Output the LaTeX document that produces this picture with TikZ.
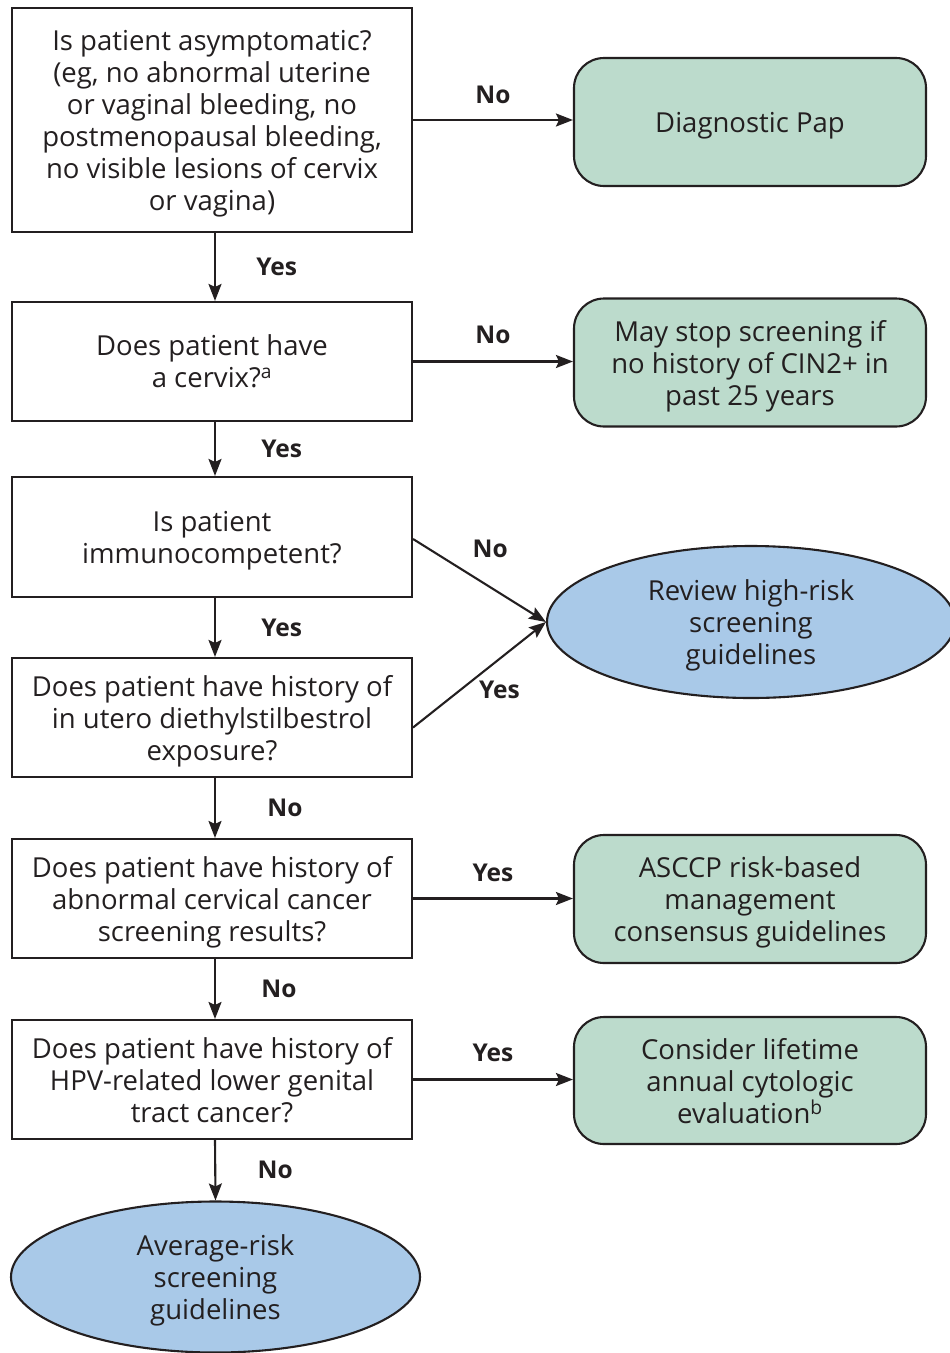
\documentclass[tikz,border=0pt]{standalone}
\usepackage{fontspec}
\setmainfont{Open Sans}
\usetikzlibrary{arrows.meta,shapes.geometric}
\definecolor{txt}{HTML}{231F20}
\definecolor{grn}{HTML}{BCDBCC}
\definecolor{blu}{HTML}{A9C9E8}
\begin{document}
\begin{tikzpicture}[x=1pt,y=-1pt,
  every node/.style={text=txt},
  qbox/.style={draw=txt,line width=2.1pt,minimum width=400pt,align=center,font=\fontsize{27.5}{32}\selectfont,inner sep=0pt,text depth=0pt},
  gbox/.style={draw=txt,line width=2.1pt,fill=grn,rounded corners=30pt,minimum width=352pt,minimum height=128pt,align=center,font=\fontsize{27.5}{32}\selectfont,inner sep=0pt,text depth=0pt},
  bell/.style={draw=txt,line width=2.1pt,fill=blu,ellipse,minimum width=408pt,minimum height=152pt,align=center,font=\fontsize{27.5}{32}\selectfont,inner sep=0pt,text depth=0pt},
  lbl/.style={font=\fontsize{24.5}{26}\bfseries\selectfont},
  arr/.style={draw=txt,line width=2.1pt,-{Stealth[length=17pt,width=13pt,inset=3pt]}}]
\useasboundingbox (0,0) rectangle (950,1353);
\node[qbox,minimum height=224pt] (q1) at (212,120) {Is patient asymptomatic?\\(eg, no abnormal uterine\\or vaginal bleeding, no\\postmenopausal bleeding,\\no visible lesions of cervix\\or vagina)};
\node[gbox] (diag) at (750,122) {Diagnostic Pap};
\node[qbox,minimum height=119pt] (q2) at (212,361.5) {Does patient have\\a cervix?\textsuperscript{a}};
\node[gbox] (stop) at (750,362.5) {May stop screening if\\no history of CIN2+ in\\past 25 years};
\node[qbox,minimum height=120pt] (q3) at (212,537) {Is patient\\immunocompetent?};
\node[bell] (rev) at (751,622) {Review high-risk\\screening\\guidelines};
\node[qbox,minimum height=119pt] (q4) at (212,717.5) {Does patient have history of\\in utero diethylstilbestrol\\exposure?};
\node[qbox,minimum height=119pt] (q5) at (212,898.5) {Does patient have history of\\abnormal cervical cancer\\screening results?};
\node[gbox] (asccp) at (750,899) {ASCCP risk-based\\management\\consensus guidelines};
\node[qbox,minimum height=119pt] (q6) at (212,1079.5) {Does patient have history of\\HPV-related lower genital\\tract cancer?};
\node[gbox,minimum height=127pt] (cons) at (750,1080.5) {Consider lifetime\\annual cytologic\\evaluation\textsuperscript{b}};
\node[bell,minimum width=409pt,minimum height=151pt] (avg) at (215.5,1277) {Average-risk\\screening\\guidelines};
% connectors
\draw[arr] (q1.east) -- (q1.east -| diag.west) node[lbl,pos=0.5,above=12pt] {No};
\draw[arr] ([xshift=3pt]q1.south) -- ([xshift=3pt]q2.north) node[lbl,pos=0.5,right=37pt] {Yes};
\draw[arr] (q2.east) -- (q2.east -| stop.west) node[lbl,pos=0.5,above=13pt] {No};
\draw[arr] ([xshift=3pt]q2.south) -- ([xshift=3pt]q3.north) node[lbl,pos=0.5,right=42pt] {Yes};
\draw[arr] ([yshift=-2pt]q3.east) -- (rev.west) node[lbl,pos=0.58,above=25pt] {No};
\draw[arr] ([yshift=-10pt]q4.east) -- (rev.west) node[lbl,pos=0.62,below=15pt,xshift=4pt] {Yes};
\draw[arr] ([xshift=3pt]q3.south) -- ([xshift=3pt]q4.north) node[lbl,pos=0.5,right=42pt] {Yes};
\draw[arr] ([xshift=3pt]q4.south) -- ([xshift=3pt]q5.north) node[lbl,pos=0.5,right=48pt] {No};
\draw[arr] (q5.east) -- (q5.east -| asccp.west) node[lbl,pos=0.5,above=12pt] {Yes};
\draw[arr] ([xshift=3pt]q5.south) -- ([xshift=3pt]q6.north) node[lbl,pos=0.5,right=42pt] {No};
\draw[arr] (q6.east) -- (q6.east -| cons.west) node[lbl,pos=0.5,above=13pt] {Yes};
\draw[arr] ([xshift=3pt]q6.south) -- (avg.north) node[lbl,pos=0.5,right=38pt] {No};
\end{tikzpicture}
\end{document}
